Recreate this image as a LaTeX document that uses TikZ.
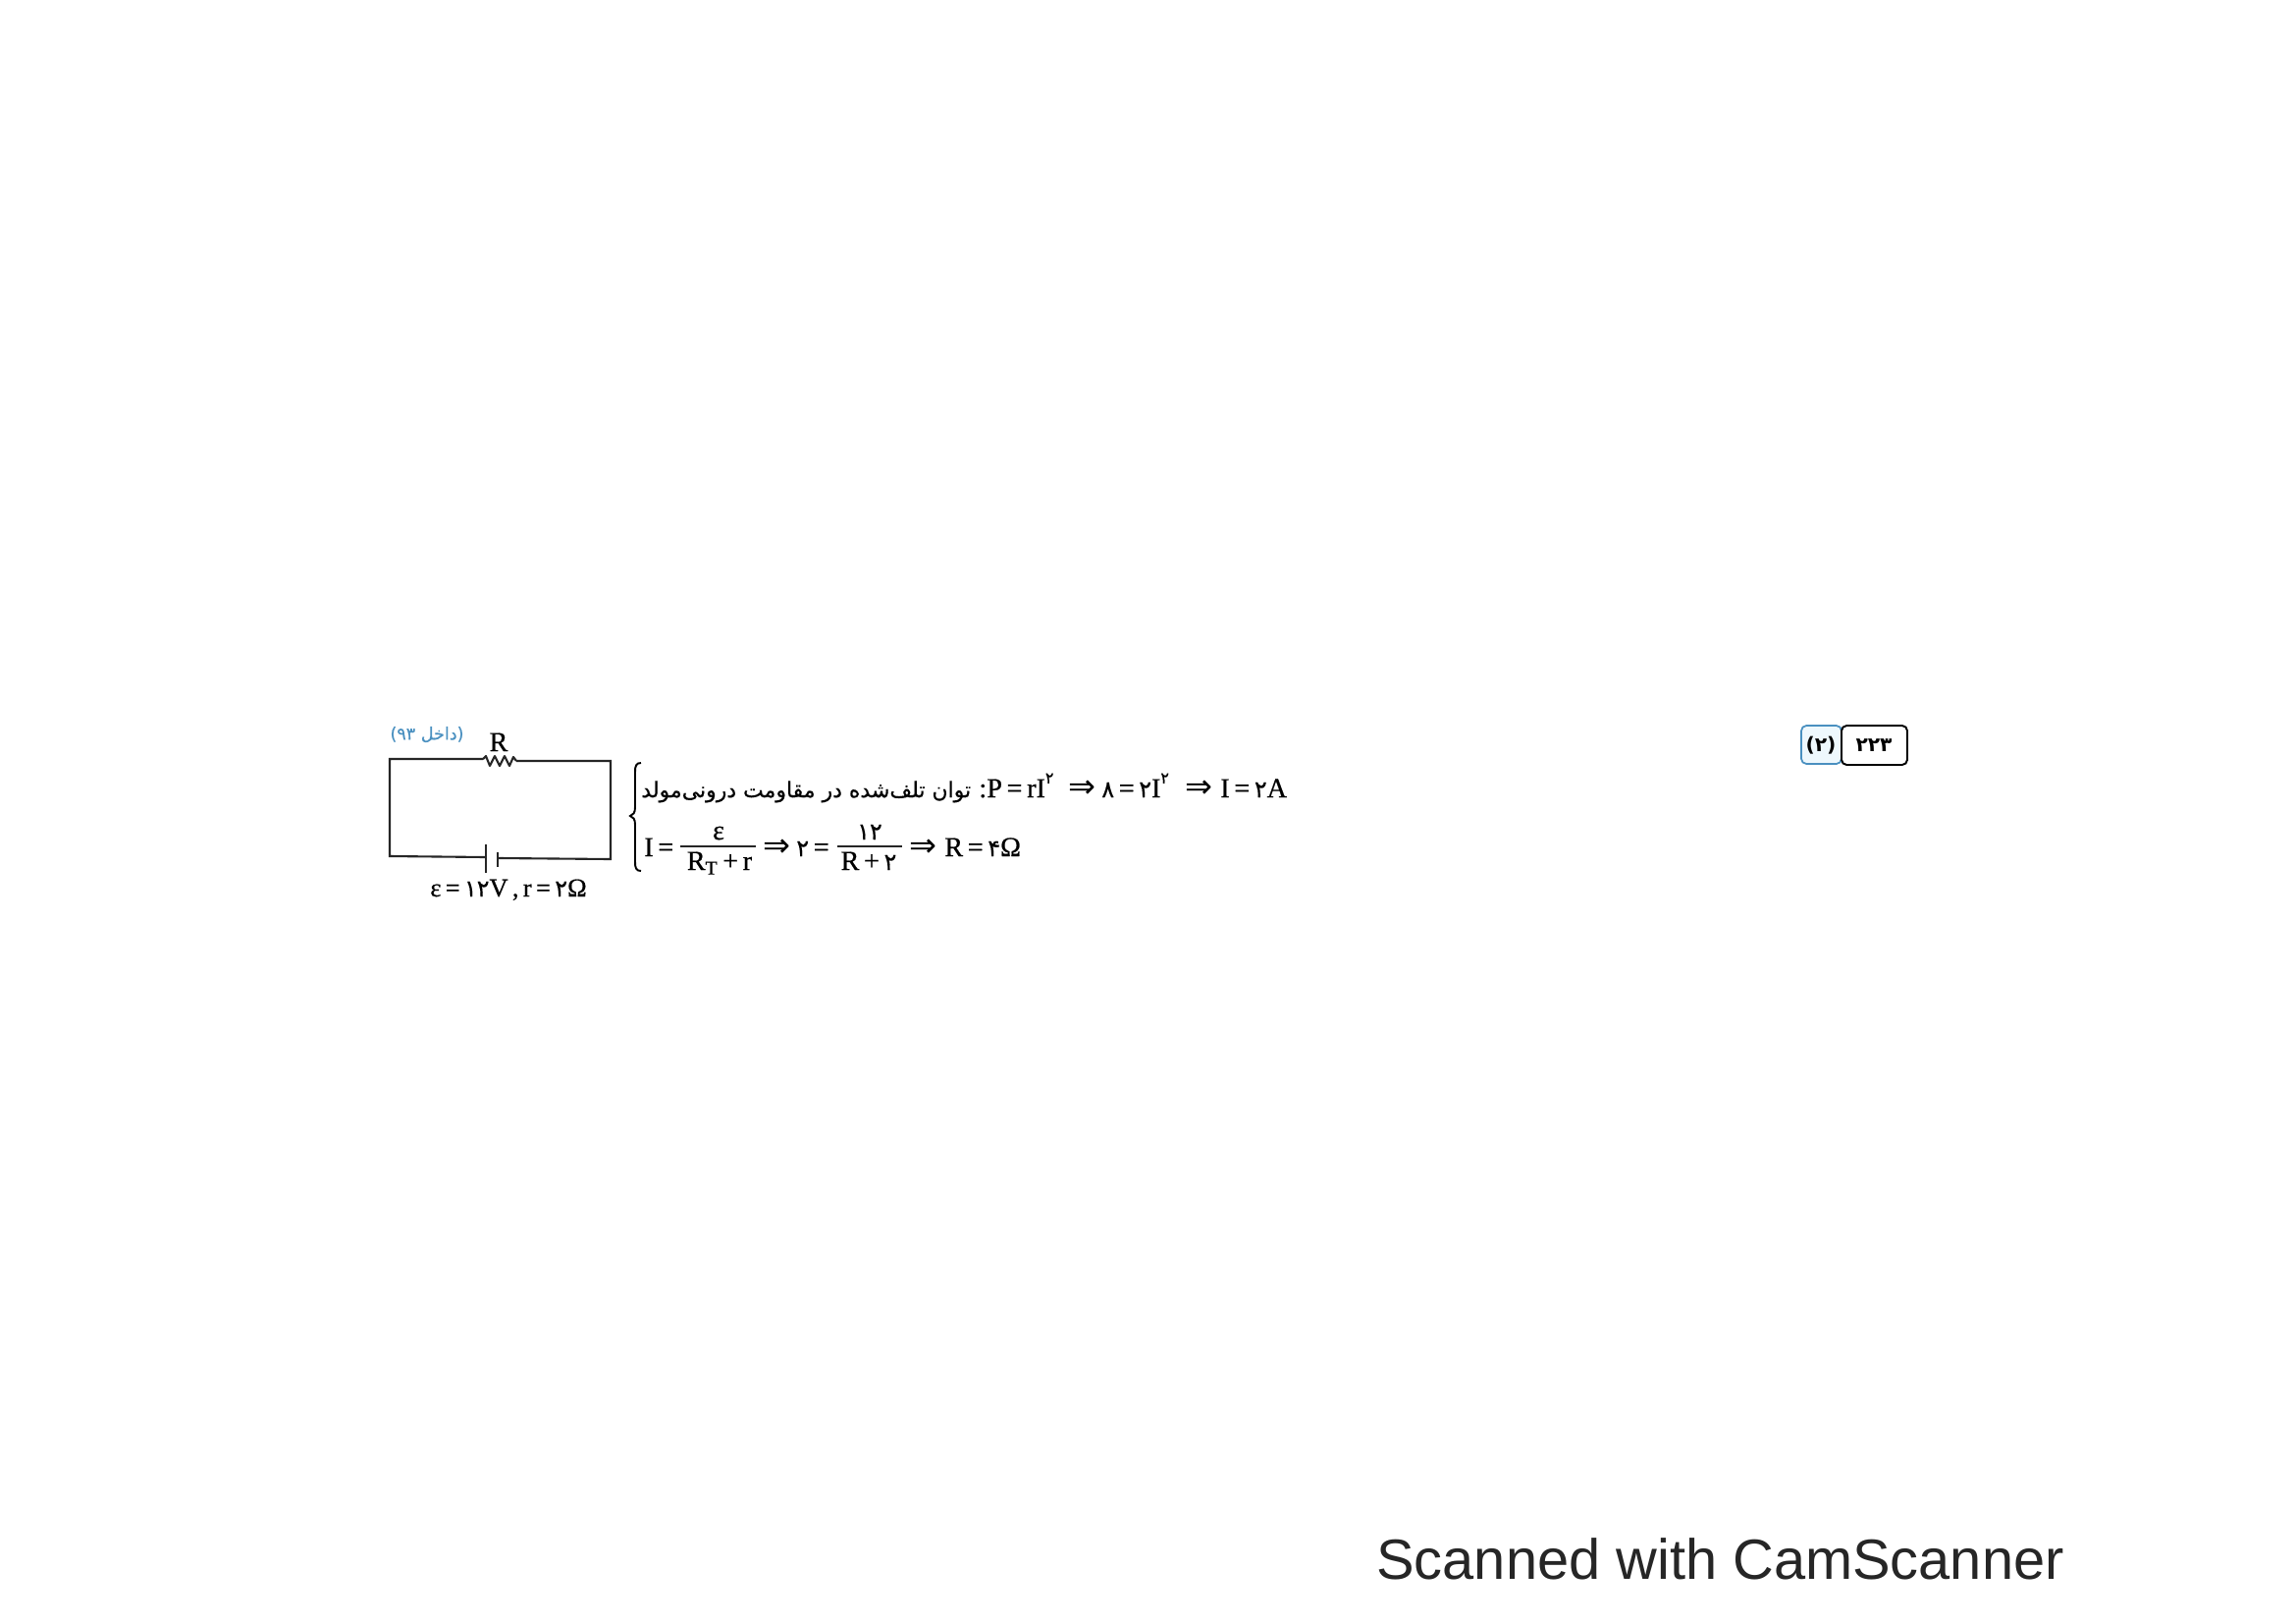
\documentclass[tikz,border=0pt]{standalone}
\usepackage{fontspec}
\setmainfont[FakeBold=0.6]{Liberation Serif}
\newfontfamily\arabicfont[Script=Arabic]{DejaVu Sans}
\newfontfamily\persianfont[Script=Arabic,FakeBold=0.4]{DejaVu Sans}
\newfontfamily\camfont{Liberation Sans}
\TeXXeTstate=1
\definecolor{tagblue}{HTML}{4A90C0}
\definecolor{tagfill}{HTML}{EEF8FD}
\newcommand{\fa}[1]{{\persianfont\fontsize{13.5}{14}\selectfont #1}}
\newcommand{\ssq}{\raisebox{1.1ex}{\persianfont\fontsize{9}{9}\selectfont ۲}}
\newcommand{\imp}{{\arabicfont\fontsize{19}{17}\selectfont ⇒}}
\tikzset{
    wire/.style={line width=1.2pt, black!85},
    eqtext/.style={inner sep=0pt, anchor=base west, font=\fontsize{16}{18}\selectfont},
    eqmid/.style={inner sep=0pt, anchor=base, font=\fontsize{16}{18}\selectfont},
}
\begin{document}
\begin{tikzpicture}[x=0.02cm, y=-0.02cm]
    \useasboundingbox (0,0) rectangle (2339,1653);

    % Circuit corners and component ends
    \coordinate (cornerTL) at (397,773);
    \coordinate (cornerTR) at (622,775);
    \coordinate (cornerBR) at (622,875);
    \coordinate (cornerBL) at (397,872);
    \coordinate (resL) at (492,773);
    \coordinate (resR) at (526,775);
    \coordinate (batL) at (495,873);
    \coordinate (batR) at (508,874);

    % Wires
    \draw[wire] (resL) -- (cornerTL) -- (cornerBL) -- (batL);
    \draw[wire] (resR) -- (cornerTR) -- (cornerBR) -- (batR);

    % Resistor
    \draw[wire, line join=round] (resL) -- (495,770) -- (499,780) -- (504,770) -- (509,780)
        -- (514,770) -- (519,780) -- (523,771) -- (resR);

    % Battery plates
    \draw[wire] (495,860) -- (495,889);
    \draw[wire] (507,868) -- (507,883);

    % Circuit labels
    \node[eqmid] (labelR) at (508,765) {R};
    \node[eqmid, font=\fontsize{15}{18}\selectfont] (labelSource) at (518,913) {ε\,=\,\fa{۱۲}V\,,\,r\,=\,\fa{۲}Ω};
    \node[inner sep=0pt, text=tagblue, font=\persianfont\fontsize{10}{12}\selectfont] (labelExam) at (435,748)
        {\beginR(داخل \beginL۹۳\endL)\endR};

    % Brace
    \draw[line width=1.1pt] (653,777) .. controls (648,777) and (647,780) .. (647,786)
        -- (647,822) .. controls (647,828) and (645,830) .. (642,831)
        .. controls (645,832) and (647,834) .. (647,840)
        -- (647,878) .. controls (647,884) and (648,887) .. (653,887);

    % First line
    \node[inner sep=0pt, anchor=base west, font=\persianfont\fontsize{12.5}{16}\selectfont] (lossText) at (653,812)
        {\beginR توان تلف‌شده در مقاومت درونی‌مولد\endR};
    \node[eqtext] (lossColon) at (997,812) {:};
    \node[eqtext] (lossP) at (1005,812) {P\,=\,rI\ssq};
    \node[eqtext] (lossStepA) at (1088,812) {\imp};
    \node[eqtext] (lossEight) at (1122,812) {\fa{۸}\,=\,\fa{۲}I\ssq};
    \node[eqtext] (lossStepB) at (1207,812) {\imp};
    \node[eqtext] (lossI) at (1243,812) {I\,=\,\fa{۲}A};

    % Second line
    \node[eqtext] (currI) at (656,872) {I\,=};
    \node[eqmid] (numE) at (732,855) {ε};
    \node[eqmid] (denE) at (733,886) {R\textsubscript{T}\,+\,r};
    \coordinate (barEL) at (693,862);
    \coordinate (barER) at (770,862);
    \draw[wire] (barEL) -- (barER);
    \node[eqtext] (currStep) at (777,872) {\imp};
    \node[eqtext] (currTwo) at (811,872) {\fa{۲}\,=};
    \node[eqmid] (numV) at (886,855) {\fa{۱۲}};
    \node[eqmid] (denV) at (885,886) {R\,+\,\fa{۲}};
    \coordinate (barVL) at (853,862);
    \coordinate (barVR) at (919,862);
    \draw[wire] (barVL) -- (barVR);
    \node[eqtext] (currStepB) at (926,872) {\imp};
    \node[eqtext] (currRes) at (962,872) {R\,=\,\fa{۴}Ω};

    % Answer tag
    \draw[draw=tagblue, fill=tagfill, line width=1pt, rounded corners=3pt] (1835,739) rectangle (1876,778);
    \draw[line width=1.1pt, rounded corners=3pt] (1876,739) rectangle (1943,779);
    \node[inner sep=0pt, font=\arabicfont\bfseries\fontsize{11.5}{14}\selectfont] (tagChoice) at (1855,759) {(۲)};
    \node[inner sep=0pt, font=\arabicfont\bfseries\fontsize{11.5}{14}\selectfont] (tagNum) at (1909,759) {۲۲۳};

    % Scanner mark
    \node[inner sep=0pt, anchor=base west, text=black!85, font=\camfont\fontsize{32.9}{40}\selectfont] (scanMark) at (1402,1608) {Scanned with CamScanner};
\end{tikzpicture}
\end{document}
